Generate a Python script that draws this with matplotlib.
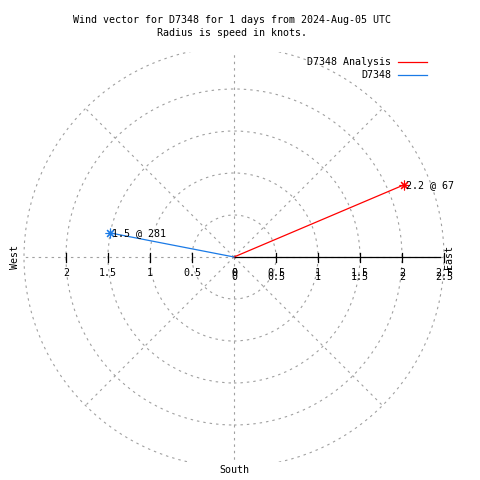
import numpy as np
import matplotlib
matplotlib.use('Agg')
from matplotlib import pyplot as plt
from matplotlib.patches import Circle, Rectangle

plt.rcParams['font.family'] = ['DejaVu Sans Mono']
plt.rcParams['font.size'] = 7.2

# wind vectors
names = ['D7348 Analysis', 'D7348']
speeds = [2.2, 1.5]
directions = [67, 281]   # degrees, clockwise from north
colors = ['#ff0000', '#1a7ae6']

# grid
rings = [0.5, 1.0, 1.5, 2.0, 2.5]
spokes = [0, 45, 90, 135, 180, 225, 270, 315]
left_ticks = [2, 1.5, 1, 0.5, 0]
right_ticks = [0, 0.5, 1, 1.5, 2, 2.5]

PX = 84.0  # pixels per knot
fig = plt.figure(figsize=(4.8, 4.8), dpi=100)
ax = fig.add_axes([0, 0, 1, 1])
ax.set_xlim(-234 / PX, 246 / PX)
ax.set_ylim(-223 / PX, 257 / PX)
ax.axis('off')

clip = Rectangle((-2.7, -2.44), 5.4, 4.88, transform=ax.transData)
grey = '#a0a0a0'
dash = (0, (2.2, 3.6))

for r in rings:
    c = Circle((0, 0), r, fill=False, edgecolor=grey, lw=0.8, linestyle=dash)
    ax.add_patch(c)
    c.set_clip_path(clip)

for a in spokes:
    t = np.radians(a)
    ln, = ax.plot([0, 2.5 * np.sin(t)], [0, 2.5 * np.cos(t)], color=grey, lw=0.8, linestyle=dash)
    ln.set_clip_path(clip)

# east axis with ticks
ax.plot([0, 2.45], [0, 0], color='black', lw=0.9)
h = 4.5 / PX
for v in right_ticks[1:]:
    ax.plot([v, v], [-h, h], color='black', lw=0.9)
for v in left_ticks[:-1]:
    ax.plot([-v, -v], [-h, h], color='black', lw=0.9)

# gnuplot draws the right-hand labels twice, slightly offset
ly = -16 / PX
for v in left_ticks:
    ax.text(-v, ly, f'{v:g}', ha='center', va='center')
for off in (0, -4 / PX):
    for v in right_ticks:
        ax.text(v, ly + off, f'{v:g}', ha='center', va='center')

# vectors
for n, s, d, c in zip(names, speeds, directions, colors):
    t = np.radians(d)
    x, y = s * np.sin(t), s * np.cos(t)
    ax.plot([0, x], [0, y], color=c, lw=0.9, label=n)
    ax.plot(x, y, marker=(8, 2, 0), color=c, ms=7, mew=0.8)
    ax.annotate(f'{s} @ {d}', (x, y), xytext=(1.5, 0), textcoords='offset points',
                ha='left', va='center')

ax.text(-219 / PX, 0, 'West', rotation=90, ha='center', va='center')
ax.text(215 / PX, 0, 'East', rotation=90, ha='center', va='center')
ax.text(0, -213 / PX, 'South', ha='center', va='center')

ax.legend(loc='upper right', bbox_to_anchor=(427 / 480, 1 - 57 / 480), frameon=False,
          markerfirst=False, handlelength=2.9, handletextpad=0.7, labelspacing=0.3,
          borderpad=0, borderaxespad=0)

fig.text(232 / 480, 1 - 20 / 480, 'Wind vector for D7348 for 1 days from 2024-Aug-05 UTC',
         ha='center', va='center')
fig.text(232 / 480, 1 - 33 / 480, 'Radius is speed in knots.', ha='center', va='center')

fig.savefig('out.png', dpi=100)
